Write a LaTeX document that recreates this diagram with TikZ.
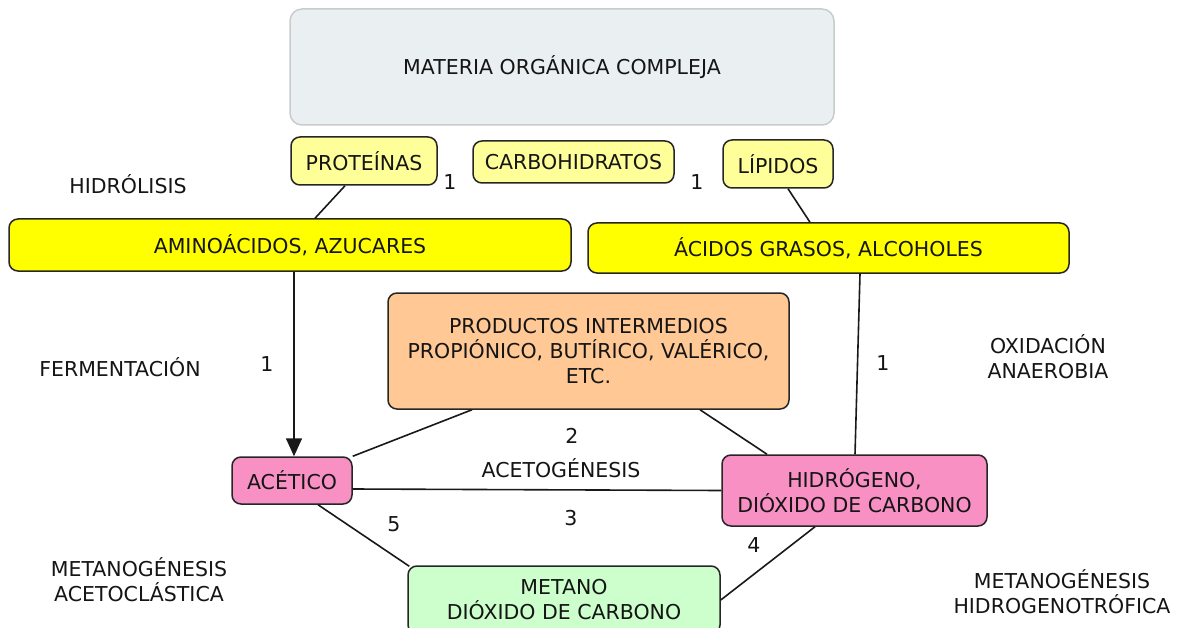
\documentclass[tikz,border=0pt]{standalone}
\usepackage{fontspec}
\setmainfont{DejaVu Sans}
\usetikzlibrary{arrows.meta,calc}
\definecolor{matfill}{HTML}{EAF0F2}
\definecolor{matdraw}{HTML}{C8CCCC}
\definecolor{lightyel}{HTML}{FFFF99}
\definecolor{brightyel}{HTML}{FFFF00}
\definecolor{peach}{HTML}{FFC894}
\definecolor{pinkbox}{HTML}{F890C4}
\definecolor{greenbox}{HTML}{CCFFCC}
\definecolor{txt}{HTML}{151515}
\begin{document}
\begin{tikzpicture}[x=1pt,y=-1pt,
  every node/.style={font=\fontsize{20.5}{25}\selectfont, text=txt, align=center, inner sep=0pt},
  box/.style={draw=black!85, line width=1.5pt, rounded corners=9pt},
  lbl/.style={},
  conn/.style={draw=black!90, line width=1.6pt}]
\useasboundingbox (0,0) rectangle (1177,628);
\fill[white] (0,0) rectangle (1177,628);
% boxes
\node[box, draw=matdraw, fill=matfill, minimum width=544pt, minimum height=116pt, rounded corners=12pt] (mat) at (562,67) {MATERIA ORGÁNICA COMPLEJA};
\node[box, fill=lightyel, minimum width=146pt, minimum height=48pt] (prot) at (364,161) {PROTEÍNAS};
\node[box, fill=lightyel, minimum width=201pt, minimum height=42pt] (carb) at (573.5,162) {CARBOHIDRATOS};
\node[box, fill=lightyel, minimum width=110pt, minimum height=48pt] (lip) at (778,164) {LÍPIDOS};
\node[box, fill=brightyel, minimum width=562pt, minimum height=52pt] (amino) at (290,245) {AMINOÁCIDOS, AZUCARES};
\node[box, fill=brightyel, minimum width=481pt, minimum height=50pt] (acid) at (828.5,248) {ÁCIDOS GRASOS, ALCOHOLES};
\node[box, fill=peach, minimum width=401pt, minimum height=116pt] (prod) at (588.5,351) {PRODUCTOS INTERMEDIOS\\PROPIÓNICO, BUTÍRICO, VALÉRICO,\\ETC.};
\node[box, fill=pinkbox, minimum width=120pt, minimum height=47pt] (acet) at (292,480.5) {ACÉTICO};
\node[box, fill=pinkbox, minimum width=265pt, minimum height=71pt] (hidro) at (854.5,490.5) {HIDRÓGENO,\\DIÓXIDO DE CARBONO};
\node[box, fill=greenbox, minimum width=312pt, minimum height=68pt] (met) at (564,600) {METANO\\DIÓXIDO DE CARBONO};
% labels
\node[lbl] (l1a) at (450,182) {1};
\node[lbl] (l1b) at (697,182) {1};
\node[lbl] (hidrol) at (128,184) {HIDRÓLISIS};
\node[lbl] (ferm) at (120,367) {FERMENTACIÓN};
\node[lbl] (l1c) at (267,364) {1};
\node[lbl] (l1d) at (883,363) {1};
\node[lbl] (oxid) at (1048,357) {OXIDACIÓN\\ANAEROBIA};
\node[lbl] (l2) at (572,436) {2};
\node[lbl] (acetog) at (561,468) {ACETOGÉNESIS};
\node[lbl] (l3) at (571,518) {3};
\node[lbl] (l5) at (394,524) {5};
\node[lbl] (l4) at (754,545) {4};
\node[lbl] (metac) at (139,580) {METANOGÉNESIS\\ACETOCLÁSTICA};
\node[lbl] (methid) at (1062,592) {METANOGÉNESIS\\HIDROGENOTRÓFICA};
% connectors
\draw[conn] ([xshift=-19pt]prot.south) -- ([xshift=25pt]amino.north);
\draw[conn] ([xshift=10pt]lip.south) -- ([xshift=-18.5pt]acid.north);
\draw[conn, -{Triangle[width=16pt,length=18pt]}] ([xshift=4pt]amino.south) -- ([xshift=2pt]acet.north);
\draw[conn] ([xshift=31.5pt]acid.south) -- ([xshift=0.5pt]hidro.north);
\draw[conn] ([xshift=-116.5pt]prod.south) -- (acet.north east);
\draw[conn] ([xshift=111.5pt]prod.south) -- ([xshift=-87.5pt]hidro.north);
\draw[conn] ([yshift=-8.5pt]acet.east) -- (hidro.west);
\draw[conn] ([xshift=26pt]acet.south) -- ([xshift=2pt,yshift=-1pt]met.north west);
\draw[conn] ([xshift=-39.5pt]hidro.south) -- (met.east);
\end{tikzpicture}
\end{document}
